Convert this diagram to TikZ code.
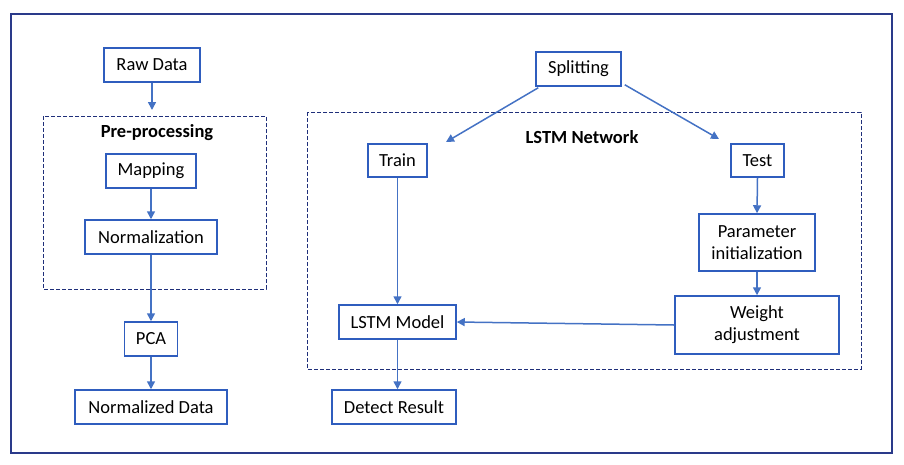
\documentclass[tikz,border=0pt]{standalone}
\usepackage{fontspec}
\setmainfont{Carlito}
\usetikzlibrary{arrows.meta}
\definecolor{boxblue}{HTML}{2F5DBE}
\definecolor{arrowblue}{HTML}{4472C4}
\definecolor{navy}{HTML}{1F2F7A}
\definecolor{framenavy}{HTML}{2A3A8A}
\begin{document}
\begin{tikzpicture}[x=1pt,y=-1pt,
  box/.style={draw=boxblue,line width=1.5pt,inner sep=0pt,align=center,font=\fontsize{18.5}{22}\selectfont},
  grp/.style={draw=navy,line width=1pt,dash pattern=on 4pt off 2pt},
  arr/.style={draw=arrowblue,line width=1.5pt,-{Triangle[length=8pt,width=8pt]}},
  ttl/.style={font=\bfseries\fontsize{18.5}{22}\selectfont,inner sep=0pt}]
\useasboundingbox (0,0) rectangle (904,464);
\draw[framenavy,line width=1.4pt] (11,14) rectangle (892,453);
% groups
\draw[grp] (43,116) rectangle (266,289);
\draw[grp] (307,112) rectangle (861,369);
\node[ttl] (pre) at (157,133) {Pre-processing};
\node[ttl] (lstmnet) at (582,137) {LSTM Network};
% left column
\node[box,minimum width=96pt,minimum height=34pt] (raw) at (152,65) {Raw Data};
\node[box,minimum width=90pt,minimum height=34pt] (map) at (151,171) {Mapping};
\node[box,minimum width=132pt,minimum height=34pt] (norm) at (151,237) {Normalization};
\node[box,minimum width=53pt,minimum height=34pt] (pca) at (151,339) {PCA};
\node[box,minimum width=152pt,minimum height=34pt] (nd) at (151,407) {Normalized Data};
\coordinate (preTop) at (152,110);
\draw[arr] (raw.south) -- (preTop);
\draw[arr] (map.south) -- (norm.north);
\draw[arr] (norm.south) -- (pca.north);
\draw[arr] (pca.south) -- (nd.north);
% right part
\node[box,minimum width=85pt,minimum height=34pt] (split) at (578.5,69) {Splitting};
\node[box,minimum width=59pt,minimum height=33pt] (train) at (397.5,160.5) {Train};
\node[box,minimum width=53pt,minimum height=33pt] (test) at (757.5,160.5) {Test};
\node[box,minimum width=116pt,minimum height=57pt] (param) at (757,242.5) {Parameter\\initialization};
\node[box,minimum width=164pt,minimum height=58pt] (weight) at (757,325) {Weight\\adjustment};
\node[box,minimum width=117pt,minimum height=34pt] (model) at (397.5,322) {LSTM Model};
\node[box,minimum width=124pt,minimum height=34pt] (detect) at (394,407) {Detect Result};
\coordinate (trainIn) at (446,142);
\coordinate (testIn) at (719,139);
\draw[arr] (split.south west) ++(3,1) -- (trainIn);
\draw[arr] (split.south east) ++(3,-2) -- (testIn);
\draw[arr] (train.south) -- (model.north);
\draw[arr] (test.south) -- (param.north);
\draw[arr] (param.south) -- (param.south |- weight.north);
\draw[arr] (weight.west) -- (model.east);
\draw[arr] (model.south) -- (model.south |- detect.north);
\end{tikzpicture}
\end{document}
